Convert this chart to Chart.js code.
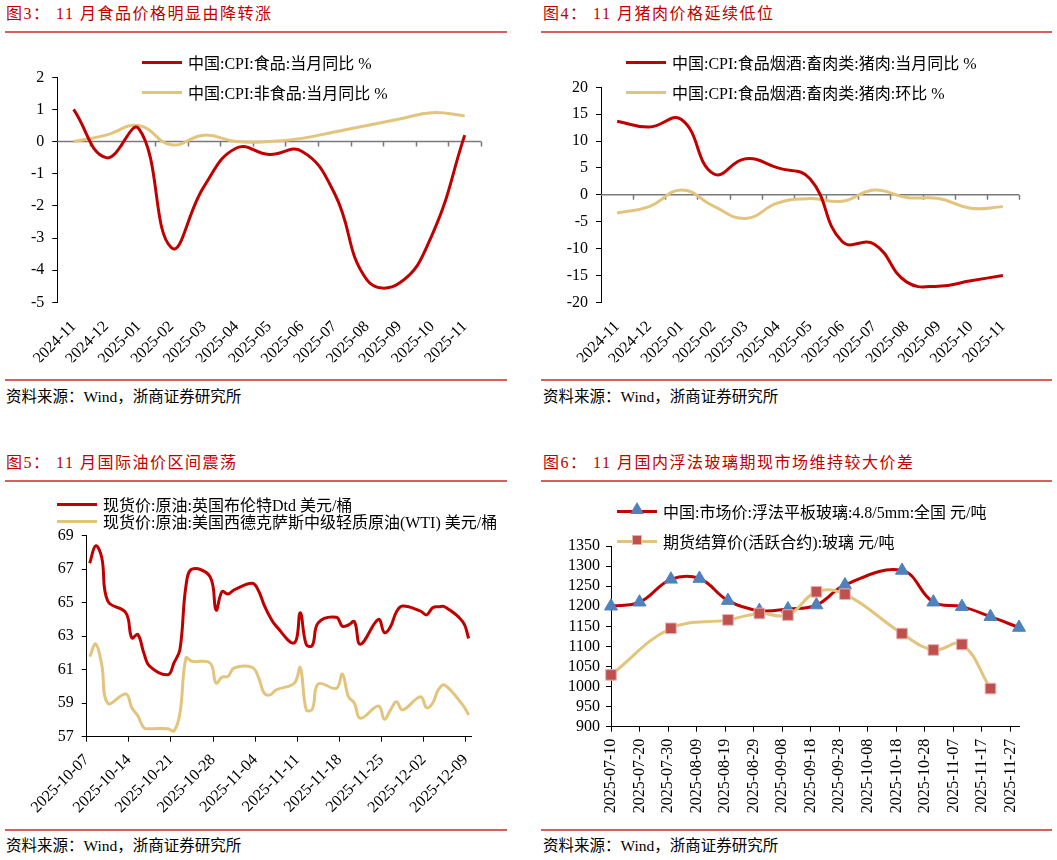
<!DOCTYPE html>
<html>
<head>
<meta charset="utf-8">
<script src="https://cdn.jsdelivr.net/npm/chart.js@4.4.1/dist/chart.umd.min.js"></script>
<style>
  body { margin:0; width:1057px; height:860px; background:#fff; position:relative; overflow:hidden;
         font-family:'Liberation Serif','Noto Sans CJK SC',serif; }
  .title { position:absolute; color:#C00000; font-size:16px; line-height:20px; white-space:pre; letter-spacing:1.5px; }
  .rule { position:absolute; height:1.5px; background:#D95F5F; }
  .src { position:absolute; color:#000; font-size:15.5px; line-height:20px; white-space:pre; }
  canvas { position:absolute; }
  .legend { position:absolute; font-size:16px; color:#000; white-space:pre; }
  .row { position:absolute; left:0; display:flex; align-items:center; height:20px; }
  .sw { position:relative; width:40px; height:3px; margin-right:6px; }
  .tri { position:absolute; left:13px; top:-8px; width:0; height:0;
         border-left:7px solid transparent; border-right:7px solid transparent; border-bottom:12px solid #4F81BD; }
  .sq { position:absolute; left:15px; top:-4.5px; width:10px; height:10px; background:#C0504D; box-sizing:border-box; border:1px solid #E6B0AE; }
</style>
</head>
<body>

<div class="title" style="left:6px;top:4px">图3： 11 月食品价格明显由降转涨</div>
<div class="rule" style="left:5px;top:31px;width:502px"></div>
<div class="title" style="left:543px;top:4px">图4： 11 月猪肉价格延续低位</div>
<div class="rule" style="left:541px;top:31px;width:511px"></div>

<div class="rule" style="left:5px;top:379px;width:502px"></div>
<div class="src" style="left:6px;top:387px">资料来源：Wind，浙商证券研究所</div>
<div class="rule" style="left:541px;top:379px;width:511px"></div>
<div class="src" style="left:543px;top:387px">资料来源：Wind，浙商证券研究所</div>

<div class="title" style="left:6px;top:453px">图5： 11 月国际油价区间震荡</div>
<div class="rule" style="left:5px;top:480px;width:502px"></div>
<div class="title" style="left:543px;top:453px">图6： 11 月国内浮法玻璃期现市场维持较大价差</div>
<div class="rule" style="left:541px;top:480px;width:511px"></div>

<div class="rule" style="left:5px;top:829px;width:502px"></div>
<div class="src" style="left:6px;top:836px">资料来源：Wind，浙商证券研究所</div>
<div class="rule" style="left:541px;top:829px;width:511px"></div>
<div class="src" style="left:543px;top:836px">资料来源：Wind，浙商证券研究所</div>

<canvas id="c1" width="520" height="335" style="left:0;top:40px"></canvas>
<canvas id="c2" width="520" height="335" style="left:535px;top:40px"></canvas>
<canvas id="c3" width="520" height="340" style="left:0;top:485px"></canvas>
<canvas id="c4" width="520" height="340" style="left:535px;top:485px"></canvas>

<div class="legend" style="left:142px;top:52px">
  <div class="row" style="top:0"><span class="sw" style="background:#C00000"></span>中国:CPI:食品:当月同比 %</div>
  <div class="row" style="top:30px"><span class="sw" style="background:#E3C47C"></span>中国:CPI:非食品:当月同比 %</div>
</div>
<div class="legend" style="left:626px;top:52px">
  <div class="row" style="top:0"><span class="sw" style="background:#C00000"></span>中国:CPI:食品烟酒:畜肉类:猪肉:当月同比 %</div>
  <div class="row" style="top:30px"><span class="sw" style="background:#E3C47C"></span>中国:CPI:食品烟酒:畜肉类:猪肉:环比 %</div>
</div>
<div class="legend" style="left:57px;top:494px">
  <div class="row" style="top:0"><span class="sw" style="background:#C00000"></span>现货价:原油:英国布伦特Dtd 美元/桶</div>
  <div class="row" style="top:17px"><span class="sw" style="background:#E3C47C"></span>现货价:原油:美国西德克萨斯中级轻质原油(WTI) 美元/桶</div>
</div>
<div class="legend" style="left:617px;top:501px">
  <div class="row" style="top:0"><span class="sw" style="background:#C00000"><span class="tri"></span></span>中国:市场价:浮法平板玻璃:4.8/5mm:全国 元/吨</div>
  <div class="row" style="top:30px"><span class="sw" style="background:#E3C47C"><span class="sq"></span></span>期货结算价(活跃合约):玻璃 元/吨</div>
</div>

<script>
// ---- data ----
const cpiMonths = ['2024-11','2024-12','2025-01','2025-02','2025-03','2025-04','2025-05','2025-06','2025-07','2025-08','2025-09','2025-10','2025-11'];
const foodYoy    = [1.0, -0.5, 0.4, -3.3, -1.4, -0.2, -0.4, -0.3, -1.6, -4.3, -4.4, -2.9, 0.2];
const nonFoodYoy = [0.0, 0.2, 0.5, -0.1, 0.2, 0.0, 0.0, 0.1, 0.3, 0.5, 0.7, 0.9, 0.8];

const porkYoy = [13.7, 12.6, 14.0, 3.9, 6.7, 5.0, 3.0, -8.7, -9.2, -16.2, -17.0, -16.0, -15.0];
const porkMom = [-3.4, -2.2, 0.9, -2.1, -4.4, -1.5, -0.7, -1.2, 0.9, -0.5, -0.7, -2.5, -2.2];

const oilDates = ['2025-10-07','2025-10-08','2025-10-09','2025-10-10','2025-10-13','2025-10-14','2025-10-15','2025-10-16','2025-10-17',
  '2025-10-20','2025-10-21','2025-10-22','2025-10-23','2025-10-24','2025-10-27','2025-10-28','2025-10-29','2025-10-30','2025-10-31',
  '2025-11-03','2025-11-04','2025-11-05','2025-11-06','2025-11-07','2025-11-10','2025-11-11','2025-11-12','2025-11-13','2025-11-14',
  '2025-11-17','2025-11-18','2025-11-19','2025-11-20','2025-11-21','2025-11-24','2025-11-25','2025-11-26','2025-11-27','2025-11-28',
  '2025-12-01','2025-12-02','2025-12-03','2025-12-04','2025-12-05','2025-12-08','2025-12-09'];
const brent = [67.35, 68.4, 67.7, 65.1, 64.4, 62.9, 63.1, 62.0, 61.2,
  60.7, 61.4, 62.2, 66.0, 67.0, 66.55, 64.56, 65.66, 65.52, 65.76,
  66.16, 65.76, 64.86, 64.13, 63.6, 62.6, 64.4, 62.5, 62.45, 63.8,
  64.13, 63.6, 63.67, 63.87, 62.52, 64.0, 63.21, 63.57, 64.46, 64.8,
  64.5, 64.27, 64.7, 64.76, 64.76, 63.87, 62.87];
const wti = [61.78, 62.54, 61.3, 59.0, 59.55, 58.73, 58.25, 57.54, 57.48,
  57.48, 57.34, 58.4, 61.7, 61.5, 61.4, 60.2, 60.56, 60.6, 61.1,
  61.14, 60.6, 59.6, 59.5, 59.8, 60.19, 61.12, 58.6, 58.65, 60.15,
  59.89, 60.74, 59.4, 59.0, 58.1, 58.83, 58.04, 58.6, 59.09, 58.6,
  59.39, 58.73, 59.0, 59.83, 60.09, 58.9, 58.3];
const oilTickLabels = ['2025-10-07','2025-10-14','2025-10-21','2025-10-28','2025-11-04','2025-11-11','2025-11-18','2025-11-25','2025-12-02','2025-12-09'];

const glassDates = ['2025-07-10','2025-07-20','2025-07-31','2025-08-10','2025-08-20','2025-08-31','2025-09-10','2025-09-20','2025-09-30',
  '2025-10-20','2025-10-31','2025-11-10','2025-11-20','2025-11-30'];
const glassSpot    = [1200, 1210, 1267, 1269, 1214, 1189, 1193, 1203, 1253, 1289, 1210, 1199, 1174, 1147];
const glassFutures = [1029, null, 1145, null, 1166, 1182, 1178, 1236, 1230, 1132, 1091, 1105, 995, null];
const glassTickLabels = ['2025-07-10','2025-07-20','2025-07-30','2025-08-09','2025-08-19','2025-08-29','2025-09-08','2025-09-18',
  '2025-09-28','2025-10-08','2025-10-18','2025-10-28','2025-11-07','2025-11-17','2025-11-27'];

// ---- helpers ----
const RED = '#C00000', TAN = '#E3C47C';
const dayIndex = (d, start) => (Date.parse(d) - Date.parse(start)) / 86400000;
Chart.defaults.font.family = "'Liberation Serif','Noto Sans CJK SC',serif";
Chart.defaults.color = '#000';
const tickFont = { size: 16, family: "'Liberation Serif',serif" };

// zero line with tick marks between categories (panels 1 and 2)
const zeroAxis = {
  id: 'zeroAxis',
  beforeDatasetsDraw(chart) {
    const { ctx, chartArea, scales: { x, y } } = chart;
    const y0 = y.getPixelForValue(0);
    const w = x.getPixelForValue(1) - x.getPixelForValue(0);
    const start = x.getPixelForValue(0) - w / 2;
    ctx.save();
    ctx.strokeStyle = '#7a7a7a';
    ctx.lineWidth = 1.5;
    ctx.beginPath();
    ctx.moveTo(chartArea.left, y0);
    ctx.lineTo(chartArea.right, y0);
    for (let k = 1; k <= x.ticks.length; k++) {
      const px = Math.round(start + k * w) + 0.5;
      ctx.moveTo(px, y0);
      ctx.lineTo(px, y0 + 5);
    }
    ctx.stroke();
    ctx.restore();
  }
};

const yAxis = (min, max, step, width, pad) => ({
  min, max,
  ticks: { stepSize: step, font: tickFont, padding: pad, autoSkip: false, callback: v => String(v) },
  grid: { drawOnChartArea: false, tickLength: 5, color: '#000' },
  border: { display: true, color: '#000' },
  afterFit: s => { s.width = width; }
});

const baseOpts = (padding, scales) => ({
  responsive: false,
  animation: false,
  layout: { padding },
  plugins: { legend: { display: false }, tooltip: { enabled: false } },
  elements: { point: { radius: 0 } },
  scales
});

const catX = {
  offset: true,
  grid: { display: false, drawTicks: false },
  border: { display: false },
  ticks: { font: tickFont, minRotation: 45, maxRotation: 45, autoSkip: false, padding: 15 },
  afterFit: s => { s.height = 60; }
};

// Figure 3: food vs non-food CPI
new Chart(document.getElementById('c1'), {
  type: 'line',
  data: {
    labels: cpiMonths,
    datasets: [
      { data: foodYoy, borderColor: RED, borderWidth: 3, tension: 0.45 },
      { data: nonFoodYoy, borderColor: TAN, borderWidth: 3, tension: 0.45 }
    ]
  },
  options: baseOpts({ left: 7.3, top: 37.3, right: 39, bottom: 12.7 }, {
    x: catX,
    y: yAxis(-5, 2, 1, 50, 8)
  }),
  plugins: [zeroAxis]
});

// Figure 4: pork CPI
new Chart(document.getElementById('c2'), {
  type: 'line',
  data: {
    labels: cpiMonths,
    datasets: [
      { data: porkYoy, borderColor: RED, borderWidth: 3, tension: 0.45 },
      { data: porkMom, borderColor: TAN, borderWidth: 3, tension: 0.45 }
    ]
  },
  options: baseOpts({ left: 16, top: 47.3, right: 36, bottom: 12.7 }, {
    x: catX,
    y: yAxis(-20, 20, 5, 50, 8)
  }),
  plugins: [zeroAxis]
});

// Figure 5: Brent / WTI, date axis in days (points sit mid-day)
const oilStart = oilTickLabels[0];
new Chart(document.getElementById('c3'), {
  type: 'line',
  data: {
    datasets: [
      { data: oilDates.map((d, i) => ({ x: dayIndex(d, oilStart) + 0.5, y: brent[i] })), borderColor: RED, borderWidth: 3, tension: 0.4 },
      { data: oilDates.map((d, i) => ({ x: dayIndex(d, oilStart) + 0.5, y: wti[i] })), borderColor: TAN, borderWidth: 3, tension: 0.4 }
    ]
  },
  options: baseOpts({ left: 36.7, top: 50.7, right: 48.3, bottom: 8.3 }, {
    x: {
      type: 'linear', min: 0, max: 64,
      afterBuildTicks: s => { s.ticks = oilTickLabels.map(d => ({ value: dayIndex(d, oilStart) })); },
      ticks: { font: tickFont, minRotation: 45, maxRotation: 45, autoSkip: false, padding: 9,
               callback: (v, i) => oilTickLabels[i] },
      grid: { drawOnChartArea: false, tickLength: 5, color: '#000' },
      border: { display: true, color: '#000' },
      afterFit: s => { s.height = 80; }
    },
    y: yAxis(57, 69, 2, 50, 8)
  })
});

// Figure 6: glass spot vs futures
const glassStart = glassTickLabels[0];
new Chart(document.getElementById('c4'), {
  type: 'line',
  data: {
    datasets: [
      { data: glassDates.map((d, i) => ({ x: dayIndex(d, glassStart), y: glassSpot[i] })),
        borderColor: RED, borderWidth: 3, tension: 0.4, order: 1, clip: false,
        pointStyle: 'triangle', pointRadius: 7.5, pointBackgroundColor: '#4F81BD', pointBorderColor: '#4F81BD', pointBorderWidth: 1 },
      { data: glassDates.map((d, i) => ({ x: dayIndex(d, glassStart), y: glassFutures[i] })),
        borderColor: TAN, borderWidth: 3, tension: 0.4, order: 0, spanGaps: true, clip: false,
        pointStyle: 'rect', pointRadius: 7.5, pointBackgroundColor: '#C0504D', pointBorderColor: '#E6B0AE', pointBorderWidth: 1 }
    ]
  },
  options: baseOpts({ left: 21, top: 61, right: 36, bottom: 8.3 }, {
    x: {
      type: 'linear', min: 0, max: 143,
      afterBuildTicks: s => { s.ticks = glassTickLabels.map(d => ({ value: dayIndex(d, glassStart) })); },
      ticks: { font: tickFont, minRotation: 90, maxRotation: 90, autoSkip: false, padding: 7,
               callback: (v, i) => glassTickLabels[i] },
      grid: { drawOnChartArea: false, tickLength: 5, color: '#000' },
      border: { display: true, color: '#000' },
      afterFit: s => { s.height = 90; }
    },
    y: yAxis(900, 1350, 50, 55, 6)
  })
});
</script>
</body>
</html>
